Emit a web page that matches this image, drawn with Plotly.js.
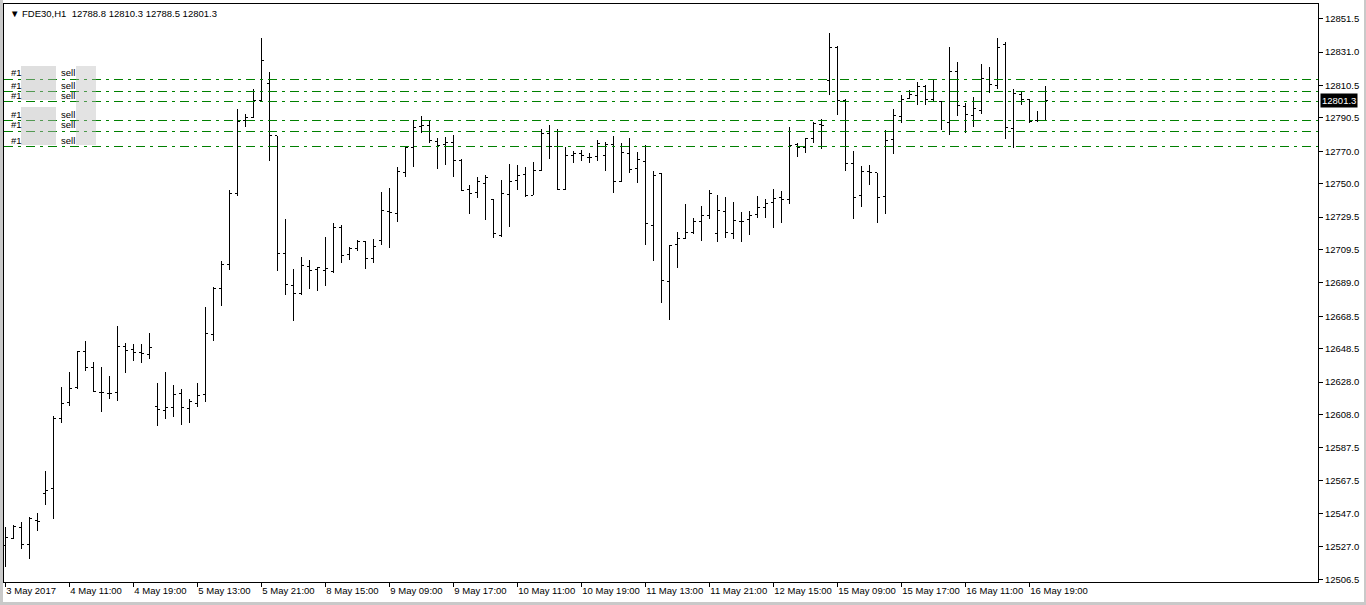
<!DOCTYPE html>
<html>
<head>
<meta charset="utf-8">
<script src="https://cdn.plot.ly/plotly-3.0.1.min.js"></script>
<style>
  html, body { margin: 0; padding: 0; background: #c9c9c9; width: 1366px; height: 605px; overflow: hidden; }
  #chart { position: absolute; left: 3px; top: 0px; width: 1361px; height: 602px; background: #fff; }
  .js-plotly-plot .plotly .ohlc path, .js-plotly-plot .plotly .shapelayer path { shape-rendering: crispEdges; }
</style>
</head>
<body>
<div id="chart"></div>
<script>
// ---- data (FDE30, H1) ----
const symbolTitle = "FDE30,H1";
const ohlcOpen = [12527.8,12532.1,12538.7,12528.0,12543.2,12559.2,12562.4,12605.9,12615.3,12624.4,
12647.0,12637.1,12621.9,12621.1,12621.9,12649.8,12648.2,12646.5,12644.9,12612.9,
12610.8,12612.5,12621.1,12611.6,12615.0,12620.3,12657.2,12685.4,12700.3,12743.7,
12788.6,12790.9,12801.1,12811.8,12779.4,12706.8,12687.5,12682.6,12699.4,12697.4,
12696.9,12696.2,12722.8,12706.4,12710.0,12714.6,12704.3,12715.0,12733.0,12731.8,
12757.2,12772.4,12785.1,12785.9,12776.1,12774.0,12775.2,12764.2,12746.6,12744.9,
12750.3,12740.4,12717.9,12743.3,12751.9,12755.6,12742.9,12758.4,12781.0,12772.8,
12746.6,12767.5,12768.3,12766.3,12766.6,12767.5,12774.4,12751.1,12768.7,12759.2,
12763.8,12724.4,12756.0,12690.0,12712.5,12716.6,12719.9,12726.9,12730.6,12719.5,
12733.0,12719.1,12726.9,12728.1,12731.0,12735.5,12738.3,12741.7,12740.4,12774.4,
12772.0,12777.7,12786.7,12813.8,12833.5,12801.1,12762.6,12742.9,12757.7,12756.8,
12742.0,12777.3,12791.2,12802.3,12804.0,12810.1,12801.9,12800.7,12787.5,12819.2,
12797.4,12792.1,12795.3,12814.2,12810.5,12835.5,12783.8,12804.8,12801.9,12789.2,12788.8];
const ohlcHigh = [12538.9,12539.9,12542.0,12544.9,12547.3,12573.2,12607.2,12624.8,12634.2,12647.0,
12653.1,12640.4,12637.1,12631.8,12662.5,12651.9,12651.4,12651.4,12658.0,12627.3,
12634.2,12626.0,12623.6,12617.4,12627.3,12674.4,12686.3,12702.3,12746.1,12795.8,
12792.9,12808.1,12839.6,12818.7,12779.4,12728.1,12697.4,12704.8,12703.1,12698.6,
12717.1,12726.0,12724.8,12711.3,12715.4,12714.6,12715.8,12744.9,12747.4,12760.5,
12772.4,12789.2,12791.7,12789.2,12778.1,12778.6,12779.8,12765.0,12749.0,12754.0,
12755.2,12740.4,12752.3,12762.1,12761.3,12760.1,12763.4,12783.8,12785.9,12783.5,
12772.4,12770.0,12770.7,12769.1,12776.9,12775.7,12779.4,12774.9,12778.1,12769.5,
12774.0,12757.7,12756.4,12712.5,12720.3,12737.5,12728.9,12736.3,12746.1,12742.9,
12741.7,12738.8,12732.6,12733.4,12742.5,12740.4,12746.6,12745.4,12784.7,12775.2,
12778.1,12788.0,12789.6,12842.5,12834.7,12801.9,12770.0,12760.9,12761.3,12756.8,
12783.0,12796.1,12804.8,12807.6,12812.6,12810.5,12814.2,12800.7,12833.9,12824.9,
12799.8,12803.5,12823.6,12821.6,12839.6,12837.2,12808.1,12807.2,12801.9,12794.6,12810.3];
const ohlcLow = [12514.3,12531.3,12525.2,12519.0,12536.6,12552.6,12544.0,12602.7,12613.3,12623.9,
12634.7,12622.4,12609.6,12617.4,12616.2,12633.8,12641.2,12639.6,12642.0,12601.0,
12605.1,12606.4,12601.8,12602.7,12612.9,12615.8,12653.5,12674.8,12696.9,12742.5,
12785.1,12790.4,12800.7,12764.2,12696.2,12681.8,12665.8,12681.8,12685.4,12684.2,
12687.1,12694.9,12701.4,12703.1,12708.5,12697.7,12701.4,12712.5,12710.5,12726.5,
12754.0,12760.5,12781.0,12774.9,12759.2,12761.7,12754.0,12745.7,12731.4,12741.2,
12727.7,12716.6,12717.4,12723.6,12746.1,12742.0,12742.9,12757.7,12765.4,12746.1,
12746.1,12762.6,12763.8,12762.6,12764.2,12758.0,12744.5,12751.1,12756.8,12750.6,
12712.1,12702.7,12676.8,12666.2,12698.2,12716.2,12719.1,12715.0,12728.5,12714.2,
12716.6,12715.8,12714.2,12718.7,12728.9,12728.9,12722.8,12726.0,12737.5,12766.6,
12769.1,12774.9,12771.5,12804.8,12792.1,12758.0,12728.5,12735.9,12749.4,12726.0,
12731.4,12768.3,12787.5,12801.9,12798.2,12798.6,12801.1,12783.0,12779.8,12791.7,
12781.4,12784.7,12792.9,12805.6,12808.4,12777.7,12772.0,12798.6,12787.5,12788.0,12788.5];
const ohlcClose = [12532.7,12539.1,12528.0,12544.0,12542.0,12561.2,12605.5,12615.0,12623.9,12647.0,
12636.7,12622.4,12621.9,12621.1,12650.2,12647.7,12646.5,12645.3,12649.4,12611.3,
12612.5,12620.3,12612.5,12615.8,12619.9,12657.6,12685.4,12700.5,12743.7,12788.0,
12790.9,12801.1,12826.1,12779.4,12706.8,12687.9,12682.6,12699.8,12696.9,12698.2,
12697.7,12722.8,12706.0,12710.0,12714.6,12704.3,12711.3,12733.8,12732.6,12757.7,
12772.4,12784.7,12785.9,12776.9,12773.6,12775.2,12764.6,12746.1,12744.1,12751.1,
12754.0,12719.1,12744.1,12751.1,12755.2,12742.9,12758.4,12781.0,12773.2,12746.6,
12767.5,12768.3,12767.1,12766.3,12774.9,12774.0,12751.1,12769.1,12758.9,12765.0,
12725.7,12755.2,12690.4,12712.1,12716.2,12719.9,12726.9,12730.6,12744.1,12733.8,
12719.9,12727.7,12726.9,12730.6,12735.5,12738.0,12741.2,12740.4,12773.6,12772.0,
12777.7,12787.2,12785.9,12833.9,12801.5,12762.6,12741.7,12757.7,12756.8,12741.7,
12776.9,12791.7,12801.9,12804.8,12810.1,12801.9,12806.9,12788.8,12819.2,12798.2,
12792.5,12796.1,12815.0,12810.9,12833.9,12784.3,12805.6,12801.9,12788.4,12788.8,12801.3];

// time-axis labels every 8 bars
const timeTickIndex = [0,8,16,24,32,40,48,56,64,72,80,88,96,104,112,120,128];
const timeTickText = ["3 May 2017","4 May 11:00","4 May 19:00","5 May 13:00","5 May 21:00",
  "8 May 15:00","9 May 09:00","9 May 17:00","10 May 11:00","10 May 19:00","11 May 13:00",
  "11 May 21:00","12 May 15:00","15 May 09:00","15 May 17:00","16 May 11:00","16 May 19:00"];

// price-axis labels
const priceTicks = [12851.5,12831.0,12810.5,12790.5,12770.0,12750.0,12729.5,12709.5,12689.0,
  12668.5,12648.5,12628.0,12608.0,12587.5,12567.5,12547.0,12527.0,12506.5];

// open sell orders (levels)
const orderPrices = [12814.2,12806.6,12800.4,12788.6,12782.4,12772.8];
const orderSide = ["sell","sell","sell","sell","sell","sell"];

const lastBar = ohlcClose.length - 1;
const barIndex = ohlcClose.map((_, i) => i);

// ---- layout helpers (pixel -> paper) ----
const plotW = 1314, plotH = 578;
const px = p => (p - 4) / plotW;   // page x (plot starts at x=4)

const trace = {
  type: 'ohlc',
  x: barIndex,
  open: ohlcOpen, high: ohlcHigh, low: ohlcLow, close: ohlcClose,
  increasing: { line: { color: '#000', width: 1 } },
  decreasing: { line: { color: '#000', width: 1 } },
  tickwidth: 0.3,
  hoverinfo: 'none',
  showlegend: false
};

const shapes = [];
const annotations = [];

orderPrices.forEach((p, k) => {
  shapes.push({ type: 'line', xref: 'paper', yref: 'y', x0: 0, x1: 1, y0: p, y1: p,
    line: { color: '#008000', width: 1, dash: '9px,5px,3px,5px' }, layer: 'above' });
  annotations.push({ xref: 'paper', yref: 'y', x: px(10), y: p, xanchor: 'left', yanchor: 'bottom',
    text: '#1', showarrow: false, font: { size: 9.5, color: '#000' }, borderpad: 0 });
  annotations.push({ xref: 'paper', yref: 'y', x: px(60), y: p, xanchor: 'left', yanchor: 'bottom',
    text: orderSide[k], showarrow: false, font: { size: 9.5, color: '#000' }, borderpad: 0 });
});

// blurred ticket-number areas
const blurFill = 'rgba(185,185,185,0.45)';
shapes.push({ type: 'rect', xref: 'paper', yref: 'y', x0: px(21), x1: px(56),
  y0: orderPrices[2] + 1, y1: orderPrices[0] + 8.5, fillcolor: blurFill, line: { width: 0 }, layer: 'above' });
shapes.push({ type: 'rect', xref: 'paper', yref: 'y', x0: px(21), x1: px(56),
  y0: orderPrices[5] + 1, y1: orderPrices[3] + 8.5, fillcolor: blurFill, line: { width: 0 }, layer: 'above' });
shapes.push({ type: 'rect', xref: 'paper', yref: 'y', x0: px(76), x1: px(96),
  y0: orderPrices[5] + 1, y1: orderPrices[0] + 8.5, fillcolor: 'rgba(185,185,185,0.4)', line: { width: 0 }, layer: 'above' });

// header
annotations.push({ xref: 'paper', yref: 'paper', x: px(8), y: 1 - (13 - 4) / plotH,
  xanchor: 'left', yanchor: 'middle', showarrow: false,
  text: '\u25BC ' + symbolTitle + '\u00A0\u00A0' + ohlcOpen[lastBar].toFixed(1) + ' ' + ohlcHigh[lastBar].toFixed(1) + ' ' +
        ohlcLow[lastBar].toFixed(1) + ' ' + ohlcClose[lastBar].toFixed(1),
  font: { size: 9.5, color: '#000' } });

// current price label
annotations.push({ xref: 'paper', yref: 'y', x: 1, y: ohlcClose[lastBar], xanchor: 'left', yanchor: 'middle',
  xshift: 2, showarrow: false, text: ohlcClose[lastBar].toFixed(1), bgcolor: '#000', borderpad: 1,
  font: { size: 9.5, color: '#fff' } });

const layout = {
  width: 1361, height: 602,
  margin: { l: 1, r: 46, t: 4, b: 20, pad: 0 },
  paper_bgcolor: '#fff', plot_bgcolor: '#fff',
  showlegend: false,
  font: { family: 'Liberation Sans, Arial, sans-serif', size: 9.5, color: '#000' },
  xaxis: {
    range: [-0.1625, -0.1625 + plotW / 8],
    tickmode: 'array', tickvals: timeTickIndex, ticktext: timeTickText,
    ticks: 'outside', ticklen: 4, tickwidth: 1, tickcolor: '#000',
    tickangle: 0,
    ticklabelposition: 'outside right',
    showline: true, linecolor: '#000', linewidth: 1, mirror: true,
    showgrid: false, zeroline: false, fixedrange: true,
    rangeslider: { visible: false },
    tickfont: { size: 9.5, color: '#000' }
  },
  yaxis: {
    side: 'right',
    range: [12505.07, 12860.54],
    tickmode: 'array', tickvals: priceTicks, ticktext: priceTicks.map(v => v.toFixed(1)),
    ticks: 'outside', ticklen: 4, tickwidth: 1, tickcolor: '#000',
    showline: true, linecolor: '#000', linewidth: 1, mirror: true,
    showgrid: false, zeroline: false, fixedrange: true,
    tickfont: { size: 9.5, color: '#000' }
  },
  shapes: shapes,
  annotations: annotations
};

Plotly.newPlot('chart', [trace], layout, { staticPlot: true, displayModeBar: false });
</script>
</body>
</html>
